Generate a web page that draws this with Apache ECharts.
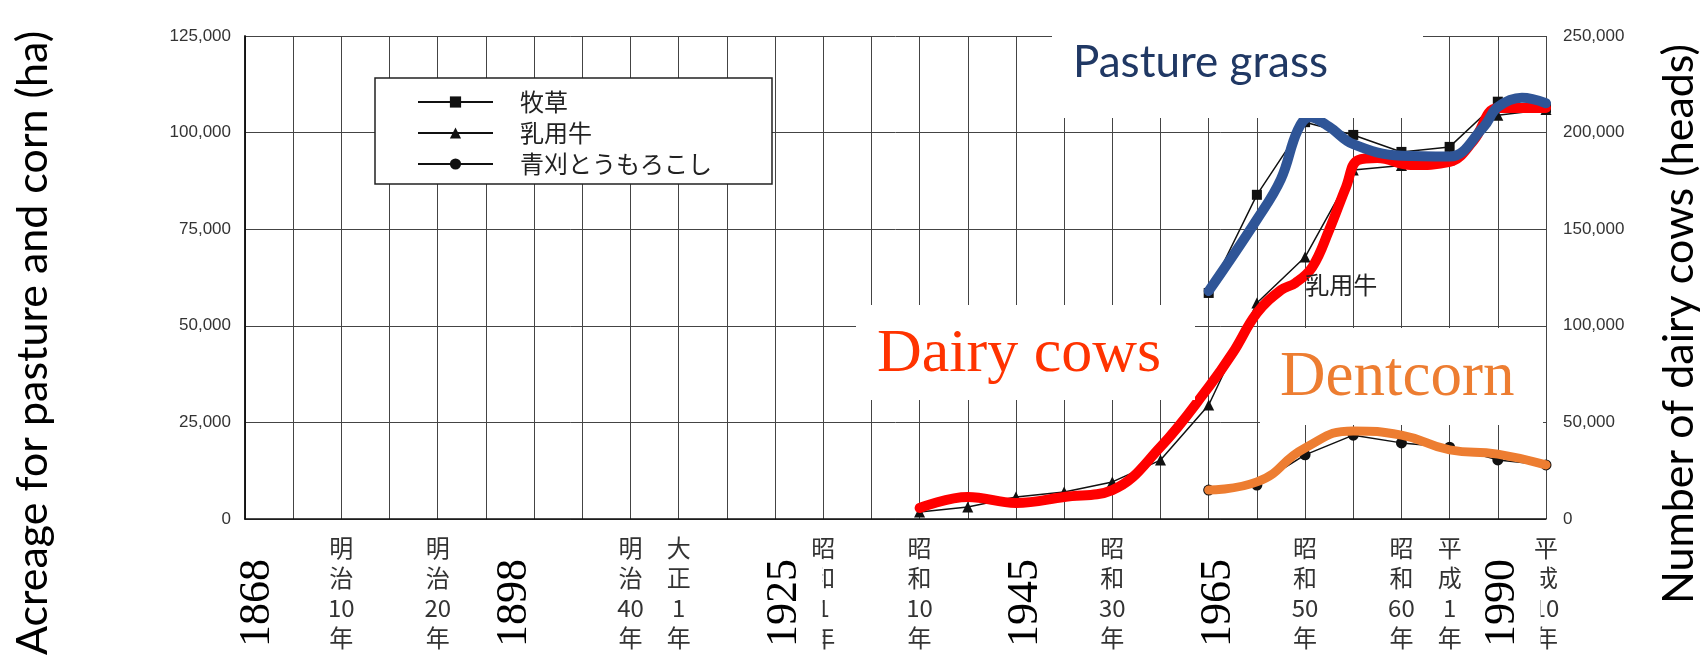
<!DOCTYPE html>
<html>
<head>
<meta charset="utf-8">
<title>Pasture, dentcorn and dairy cows</title>
<script src="https://cdn.jsdelivr.net/npm/echarts@6/dist/echarts.min.js"></script>
<style>
  html, body { margin: 0; padding: 0; background: #fff; }
  #chart { width: 1705px; height: 666px; }
</style>
</head>
<body>
<div id="chart"></div>
<script>
// x positions are grid-column indices of the scanned chart (0 = 1868, 27 = 平成10年)
const eraTicks = [2, 4, 8, 9, 12, 14, 18, 22, 24, 25, 27]
const eraLabels = ['明治10年', '明治20年', '明治40年', '大正1年', '昭和1年', '昭和10年',
  '昭和30年', '昭和50年', '昭和60年', '平成1年', '平成10年']
const yearTicks = [0.25, 5.6, 11.2, 16.2, 20.2, 26.1]
const yearLabels = ['1868', '1898', '1925', '1945', '1965', '1990']

// original plotted points (black markers)
const pastureX = [20, 21, 22, 23, 24, 25, 26, 27]
const pastureHa = [58500, 83900, 102700, 99400, 95000, 96300, 108000, 106400]
const cowsX = [14, 15, 16, 17, 18, 19, 20, 21, 22, 23, 24, 25, 26, 27]
const cowsHeads = [3600, 6200, 11400, 14000, 19200, 30500, 59000, 111800, 135600, 180600, 183000, 186000, 209000, 212000]
const cornX = [20, 21, 22, 23, 24, 25, 26, 27]
const cornHa = [7500, 8800, 16600, 21700, 19700, 18600, 15300, 14000]

// hand-drawn coloured traces laid over the scan
const pastureTraceX = [20, 21, 21.5, 21.85, 22.1, 22.5, 23, 24, 25, 25.7, 26, 26.5, 27]
const pastureTraceHa = [59000, 77500, 88000, 100700, 104000, 101500, 97000, 94000, 93800, 101400, 106600, 109000, 107600]
const cowsTraceX = [14, 15, 16, 17, 18, 19, 20, 20.5, 21, 21.5, 21.8, 22.15, 22.5, 22.85, 23.1, 23.5, 24.2, 25, 25.5, 26, 27]
const cowsTraceHeads = [5700, 11400, 8300, 11400, 15000, 37300, 68300, 86000, 106600, 118500, 122200, 130400, 149600, 171800, 185800, 186800, 183200, 184800, 196000, 212700, 212700]
const cornTraceX = [20, 21, 22, 23, 24, 25, 26, 27]
const cornTraceHa = [7500, 9600, 18400, 22800, 21700, 17900, 16800, 14000]

const pairs = (xs, ys) => xs.map((x, i) => [x, ys[i]])
const vertical = (s) => (s.match(/\d+|./g) || []).join('\n')

const chart = echarts.init(document.getElementById('chart'))
chart.setOption({
  backgroundColor: '#fff',
  animation: false,
  grid: { left: 245, right: 159, top: 36, bottom: 147 },
  legend: {
    data: ['牧草', '乳用牛', '青刈とうもろこし'],
    orient: 'vertical',
    left: 375,
    top: 78,
    backgroundColor: '#fff',
    borderColor: '#222',
    borderWidth: 1.5,
    borderRadius: 0,
    padding: [12, 60, 8, 42],
    itemWidth: 75,
    itemHeight: 14,
    itemGap: 7,
    textStyle: {
      fontFamily: 'Noto Sans CJK JP',
      fontSize: 24,
      lineHeight: 24,
      color: '#222',
      padding: [0, 0, 0, 22]
    }
  },
  xAxis: [
    {
      type: 'value',
      min: 0,
      max: 27,
      interval: 1,
      axisLine: { show: true, lineStyle: { color: '#111', width: 1.5 } },
      axisTick: { show: false },
      splitLine: { show: true, lineStyle: { color: '#444', width: 1 } },
      axisLabel: {
        customValues: eraTicks,
        formatter: (v) => {
          const i = eraTicks.indexOf(v)
          return i < 0 ? '' : vertical(eraLabels[i])
        },
        fontFamily: 'Noto Sans CJK JP',
        fontSize: 24,
        lineHeight: 30,
        color: '#333',
        margin: 14,
        verticalAlign: 'top'
      }
    },
    {
      type: 'value',
      min: 0,
      max: 27,
      position: 'bottom',
      z: 5,
      axisLine: { show: false },
      axisTick: { show: false },
      splitLine: { show: false },
      axisLabel: {
        customValues: yearTicks,
        formatter: (v) => {
          const i = yearTicks.indexOf(v)
          return i < 0 ? '' : yearLabels[i]
        },
        rotate: 90,
        fontFamily: '"Liberation Serif", "Times New Roman", serif',
        fontSize: 44,
        color: '#000',
        margin: 40,
        backgroundColor: '#fff',
        padding: [16, 0, 16, 0]
      }
    }
  ],
  yAxis: [
    {
      type: 'value',
      min: 0,
      max: 125000,
      interval: 25000,
      axisLine: { show: true, lineStyle: { color: '#111', width: 1.5 } },
      axisTick: { show: false },
      splitLine: { show: true, lineStyle: { color: '#444', width: 1 } },
      axisLabel: {
        formatter: (v) => v.toLocaleString('en-US'),
        fontFamily: 'Liberation Sans',
        fontSize: 17,
        color: '#333',
        margin: 14
      }
    },
    {
      type: 'value',
      min: 0,
      max: 250000,
      interval: 50000,
      position: 'right',
      axisLine: { show: true, lineStyle: { color: '#111', width: 1.5 } },
      axisTick: { show: false },
      splitLine: { show: false },
      axisLabel: {
        formatter: (v) => v.toLocaleString('en-US'),
        fontFamily: 'Liberation Sans',
        fontSize: 17,
        color: '#333',
        margin: 17
      }
    }
  ],
  series: [
    {
      name: '牧草',
      type: 'line',
      data: pairs(pastureX, pastureHa),
      symbol: 'rect',
      symbolSize: 10,
      itemStyle: { color: '#111' },
      lineStyle: { color: '#111', width: 1.5 },
      z: 2
    },
    {
      name: '乳用牛',
      type: 'line',
      yAxisIndex: 1,
      data: pairs(cowsX, cowsHeads),
      symbol: 'triangle',
      symbolSize: 11,
      itemStyle: { color: '#111' },
      lineStyle: { color: '#111', width: 1.5 },
      z: 2,
      markPoint: {
        symbol: 'rect',
        symbolSize: 1,
        itemStyle: { color: 'rgba(0,0,0,0)' },
        label: {
          show: true,
          position: 'inside',
          formatter: '乳用牛',
          fontFamily: 'Noto Sans CJK JP',
          fontSize: 24,
          color: '#222'
        },
        data: [{ coord: [22.75, 121000] }]
      }
    },
    {
      name: '青刈とうもろこし',
      type: 'line',
      data: pairs(cornX, cornHa),
      symbol: 'circle',
      symbolSize: 11,
      itemStyle: { color: '#111' },
      lineStyle: { color: '#111', width: 1.5 },
      z: 2
    },
    {
      name: 'Pasture grass',
      type: 'line',
      data: pairs(pastureTraceX, pastureTraceHa),
      smooth: 0.4,
      symbol: 'none',
      lineStyle: { color: '#2f5597', width: 10, cap: 'round' },
      z: 4
    },
    {
      name: 'Dairy cows',
      type: 'line',
      yAxisIndex: 1,
      data: pairs(cowsTraceX, cowsTraceHeads),
      smooth: 0.4,
      symbol: 'none',
      lineStyle: { color: '#ff0000', width: 10, cap: 'round' },
      z: 3
    },
    {
      name: 'Dentcorn',
      type: 'line',
      data: pairs(cornTraceX, cornTraceHa),
      smooth: 0.5,
      symbol: 'none',
      lineStyle: { color: '#ed7d31', width: 9, cap: 'round' },
      z: 3
    }
  ],
  graphic: [
    { type: 'rect', z: 100, shape: { x: 1052, y: 0, width: 371, height: 118 }, style: { fill: '#fff' } },
    { type: 'text', z: 101, x: 1073, y: 63,
      style: { text: 'Pasture grass', fill: '#203864', font: '44px Lato', verticalAlign: 'middle' } },
    { type: 'rect', z: 100, shape: { x: 856, y: 305, width: 339, height: 95 }, style: { fill: '#fff' } },
    { type: 'text', z: 101, x: 877, y: 355,
      style: { text: 'Dairy cows', fill: '#ff3300', font: '62px "Liberation Serif"', verticalAlign: 'middle' } },
    { type: 'rect', z: 100, shape: { x: 1260, y: 328, width: 283, height: 97 }, style: { fill: '#fff' } },
    { type: 'text', z: 101, x: 1280, y: 378,
      style: { text: 'Dentcorn', fill: '#ed7d31', font: '63px "Liberation Serif"', verticalAlign: 'middle' } },
    { type: 'text', z: 101, x: 33, y: 343, rotation: Math.PI / 2,
      style: { text: 'Acreage for pasture and corn (ha)', fill: '#000', font: '43px Lato', align: 'center', verticalAlign: 'middle' } },
    { type: 'text', z: 101, x: 1679, y: 324, rotation: Math.PI / 2,
      style: { text: 'Number of dairy cows (heads)', fill: '#000', font: '43px Lato', align: 'center', verticalAlign: 'middle' } }
  ]
})
</script>
</body>
</html>
